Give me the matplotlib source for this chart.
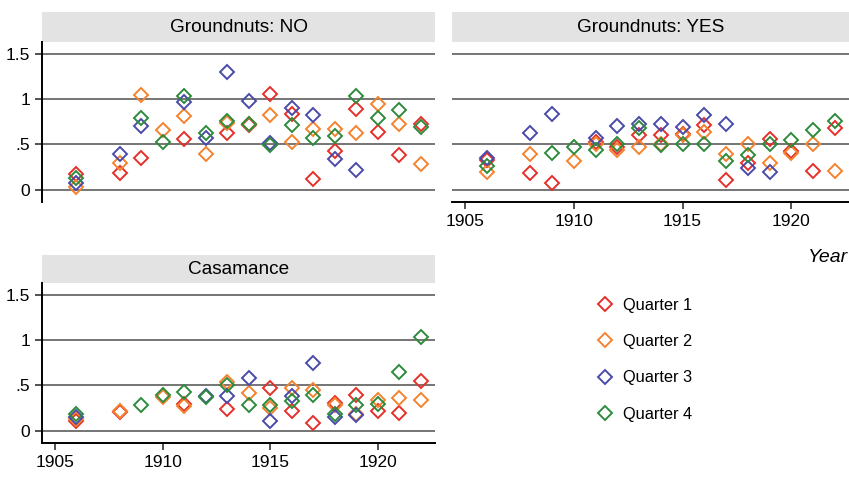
import numpy as np
import matplotlib
matplotlib.use("Agg")
import matplotlib.pyplot as plt
from matplotlib.patches import Rectangle
from matplotlib.lines import Line2D

plt.rcParams['font.family'] = ['Liberation Sans', 'DejaVu Sans']

nan = np.nan

# -----------------------
# DATA
# -----------------------
years = [1906, 1908, 1909, 1910, 1911, 1912, 1913, 1914,
         1915, 1916, 1917, 1918, 1919, 1920, 1921, 1922]

no_q1 = [0.17, 0.18, 0.35, nan, 0.56, nan, 0.63, 0.71, 1.06, 0.84, 0.12, 0.43, 0.89, 0.64, 0.38, 0.73]
no_q2 = [0.03, 0.30, 1.04, 0.66, 0.81, 0.40, 0.74, 0.72, 0.82, 0.53, 0.67, 0.67, 0.63, 0.95, 0.72, 0.28]
no_q3 = [0.08, 0.39, 0.70, nan, 0.97, 0.57, 1.30, 0.98, 0.52, 0.90, 0.83, 0.34, 0.22, nan, nan, nan]
no_q4 = [0.13, nan, 0.79, 0.53, 1.03, 0.63, 0.76, 0.73, 0.49, 0.71, 0.57, 0.59, 1.03, 0.79, 0.88, 0.69]

yes_q1 = [0.33, 0.19, 0.08, nan, 0.53, 0.47, 0.60, 0.60, 0.62, 0.71, 0.11, 0.29, 0.56, 0.43, 0.21, 0.68]
yes_q2 = [0.20, 0.40, nan, 0.32, 0.50, 0.44, 0.47, 0.50, 0.60, 0.64, 0.40, 0.51, 0.30, 0.41, 0.51, 0.21]
yes_q3 = [0.35, 0.63, 0.84, nan, 0.57, 0.70, 0.72, 0.73, 0.69, 0.82, 0.73, 0.24, 0.20, nan, nan, nan]
yes_q4 = [0.26, nan, 0.41, 0.47, 0.44, 0.50, 0.68, 0.49, 0.50, 0.50, 0.32, 0.38, 0.50, 0.55, 0.66, 0.76]

cas_q1 = [0.11, 0.21, nan, nan, 0.29, nan, 0.24, nan, 0.47, 0.22, 0.09, 0.31, 0.39, 0.22, 0.20, 0.55]
cas_q2 = [0.13, 0.22, nan, 0.37, 0.27, nan, 0.54, 0.42, 0.25, 0.47, 0.45, 0.28, 0.18, 0.34, 0.36, 0.34]
cas_q3 = [0.15, nan, nan, nan, nan, 0.38, 0.38, 0.58, 0.11, 0.38, 0.75, 0.15, 0.17, nan, nan, nan]
cas_q4 = [0.18, nan, 0.28, 0.40, 0.43, 0.37, 0.50, 0.28, 0.28, 0.33, 0.39, 0.18, 0.28, 0.29, 0.65, 1.03]

quarters = ["Quarter 1", "Quarter 2", "Quarter 3", "Quarter 4"]
colors = ["#e4302a", "#f5822e", "#4a4aaa", "#2e8b3c"]

panels = [
    ("Groundnuts: NO", [no_q1, no_q2, no_q3, no_q4]),
    ("Groundnuts: YES", [yes_q1, yes_q2, yes_q3, yes_q4]),
    ("Casamance", [cas_q1, cas_q2, cas_q3, cas_q4]),
]

# -----------------------
# FIGURE
# -----------------------
fig = plt.figure(figsize=(8.49, 4.78), dpi=100)
W, H = 849, 478

def px_axes(x0, y0, x1, y1):
    return fig.add_axes([x0 / W, 1 - y1 / H, (x1 - x0) / W, (y1 - y0) / H])

axes = [px_axes(42, 42, 435, 202), px_axes(452, 42, 849, 202), px_axes(42, 283, 435, 443)]
strip_h = [30, 30, 28]

for i, (ax, (title, series)) in enumerate(zip(axes, panels)):
    for vals, c in zip(series, colors):
        ax.plot(years, vals, linestyle="none", marker="D", markersize=7,
                markerfacecolor="none", markeredgecolor=c, markeredgewidth=1.4,
                zorder=3)
    ax.set_xlim(1904.4, 1922.65)
    ax.set_ylim(-0.135, 1.63)
    ax.set_yticks([0, 0.5, 1, 1.5])
    ax.set_yticklabels(["0", ".5", "1", "1.5"])
    ax.set_xticks([1905, 1910, 1915, 1920])
    for yv in [0, 0.5, 1, 1.5]:
        ax.axhline(yv, color="#505050", lw=1.1, zorder=1)
    for s in ax.spines.values():
        s.set_visible(False)
    ax.tick_params(labelsize=12.5, length=5, width=1.2, color="#333333")

    # y axis only in left column, x axis only where nothing is below
    if i in (0, 2):
        ax.spines["left"].set_visible(True)
        ax.spines["left"].set_linewidth(1.4)
    else:
        ax.tick_params(axis="y", left=False, labelleft=False)
    if i in (1, 2):
        ax.spines["bottom"].set_visible(True)
        ax.spines["bottom"].set_linewidth(1.4)
    else:
        ax.tick_params(axis="x", bottom=False, labelbottom=False)

    # grey title strip
    h = strip_h[i] / 160
    ax.add_patch(Rectangle((0, 1), 1, h, transform=ax.transAxes,
                           facecolor="#e3e3e3", edgecolor="none", clip_on=False))
    ax.text(0.5, 1 + h / 2, title, transform=ax.transAxes, ha="center",
            va="center", fontsize=13.7)

fig.text(848 / W, 1 - 257 / H, "Year", ha="right", va="center",
         fontsize=14, style="italic")

handles = [Line2D([], [], linestyle="none", marker="D", markersize=7,
                  markerfacecolor="none", markeredgecolor=c, markeredgewidth=1.4)
           for c in colors]
fig.legend(handles, quarters, loc="upper left",
           bbox_to_anchor=(580 / W, 1 - 283 / H), frameon=False,
           fontsize=11.8, labelspacing=1.3, handletextpad=0.5,
           handlelength=1.2)

plt.savefig("out.png", dpi=100)
